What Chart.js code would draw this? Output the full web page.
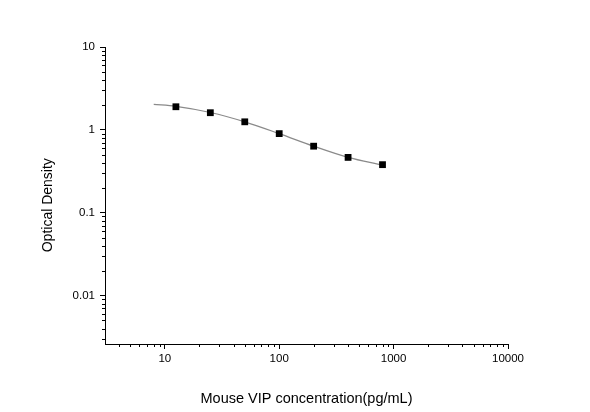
<!DOCTYPE html>
<html>
<head>
<meta charset="utf-8">
<script src="https://cdn.jsdelivr.net/npm/chart.js@4/dist/chart.umd.min.js"></script>
<style>
  html, body { margin: 0; padding: 0; background: #fff; }
  canvas { display: block; }
</style>
</head>
<body>
<canvas id="chart" width="590" height="412"></canvas>
<script>
// standard points (concentration pg/mL vs OD)
const concentrations = [12.5, 25, 50, 100, 200, 400, 800];
const odValues = [1.9, 1.61, 1.25, 0.9, 0.635, 0.465, 0.38];

// fitted curve
const fitX = [8, 12.5, 25, 50, 100, 200, 400, 800];
const fitY = [2.03, 1.92, 1.62, 1.25, 0.9, 0.635, 0.465, 0.375];

const xRange = [3, 10000];
const yRange = [0.0026, 10];
const xTickLabels = ['10', '100', '1000', '10000'];
const yTickLabels = ['0.01', '0.1', '1', '10'];

const FONT = '"Liberation Sans", Arial, sans-serif';

const isDecade = v => Math.abs(Math.log10(v) - Math.round(Math.log10(v))) < 1e-9;

// 1..9 x 10^n ticks inside the range
function logTicks(scale) {
  const out = [];
  const lo = Math.floor(Math.log10(scale.min));
  const hi = Math.ceil(Math.log10(scale.max));
  for (let e = lo; e <= hi; e++) {
    for (let m = 1; m < 10; m++) {
      const v = +(m * Math.pow(10, e)).toPrecision(6);
      if (v >= scale.min * 0.9999 && v <= scale.max * 1.0001) out.push({ value: v, major: m === 1 });
    }
  }
  scale.ticks = out;
}

// short minor ticks
const minorTicks = {
  id: 'minorTicks',
  afterDraw(chart) {
    const ctx = chart.ctx;
    const xs = chart.scales.x, ys = chart.scales.y;
    ctx.save();
    ctx.strokeStyle = '#000';
    ctx.lineWidth = 1;
    ctx.beginPath();
    xs.ticks.forEach(t => {
      if (isDecade(t.value) || t.value === xs.min) return;
      const px = Math.round(xs.getPixelForValue(t.value)) + 0.5;
      ctx.moveTo(px, xs.top);
      ctx.lineTo(px, xs.top + 3);
    });
    ys.ticks.forEach(t => {
      if (isDecade(t.value)) return;
      const py = Math.round(ys.getPixelForValue(t.value)) + 0.5;
      ctx.moveTo(ys.right, py);
      ctx.lineTo(ys.right - 3, py);
    });
    ctx.stroke();
    ctx.restore();
  }
};

const labelFor = labels => v => {
  if (!isDecade(v)) return '';
  const s = String(+v.toPrecision(6));
  return labels.includes(s) ? s : '';
};

new Chart(document.getElementById('chart'), {
  type: 'line',
  data: {
    datasets: [
      {
        data: concentrations.map((c, i) => ({ x: c, y: odValues[i] })),
        showLine: false,
        pointStyle: 'rect',
        pointRadius: 4.8,
        pointBackgroundColor: '#000',
        pointBorderColor: '#000',
        pointBorderWidth: 0,
        order: 0
      },
      {
        data: fitX.map((c, i) => ({ x: c, y: fitY[i] })),
        borderColor: '#8a8a8a',
        borderWidth: 1.2,
        pointRadius: 0,
        tension: 0.4,
        cubicInterpolationMode: 'monotone',
        fill: false,
        order: 1
      }
    ]
  },
  options: {
    responsive: false,
    animation: false,
    events: [],
    layout: { padding: { left: 0, top: 47, right: 82, bottom: 0 } },
    plugins: { legend: { display: false }, tooltip: { enabled: false } },
    scales: {
      x: {
        type: 'logarithmic',
        min: xRange[0],
        max: xRange[1],
        afterBuildTicks: logTicks,
        afterFit: s => { s.height = 68; },
        border: { display: true, color: '#000', width: 1 },
        grid: {
          drawOnChartArea: false,
          drawTicks: true,
          tickLength: 5,
          tickColor: c => (c.tick && isDecade(c.tick.value)) ? '#000' : 'rgba(0,0,0,0)'
        },
        ticks: {
          autoSkip: false,
          maxRotation: 0,
          padding: 3,
          color: '#000',
          font: { family: FONT, size: 11.5 },
          callback: labelFor(xTickLabels)
        },
        title: {
          display: true,
          text: 'Mouse VIP concentration(pg/mL)',
          color: '#000',
          font: { family: FONT, size: 14.5 },
          padding: { top: 0, bottom: 4 }
        }
      },
      y: {
        type: 'logarithmic',
        min: yRange[0],
        max: yRange[1],
        afterBuildTicks: logTicks,
        afterFit: s => { s.width = 105; },
        border: { display: true, color: '#000', width: 1 },
        grid: {
          drawOnChartArea: false,
          drawTicks: true,
          tickLength: 5,
          tickColor: c => (c.tick && isDecade(c.tick.value)) ? '#000' : 'rgba(0,0,0,0)'
        },
        ticks: {
          autoSkip: false,
          padding: 5,
          color: '#000',
          font: { family: FONT, size: 11.5 },
          callback: labelFor(yTickLabels)
        },
        title: {
          display: true,
          text: 'Optical Density     ',
          color: '#000',
          font: { family: FONT, size: 14 },
          padding: { top: 40, bottom: 0 }
        }
      }
    }
  },
  plugins: [minorTicks]
});
</script>
</body>
</html>
